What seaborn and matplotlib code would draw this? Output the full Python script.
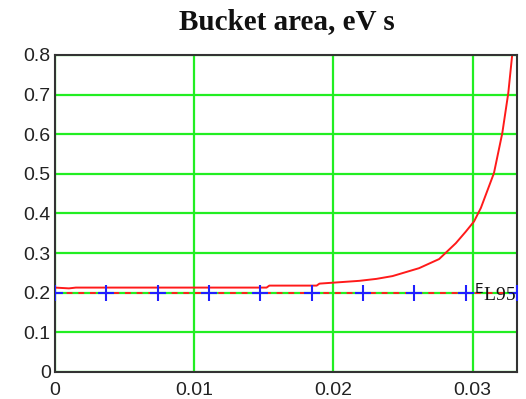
import matplotlib
matplotlib.use("Agg")
import matplotlib.pyplot as plt
import seaborn as sns
import pandas as pd

# Data
curve_x = [0.0, 0.0010, 0.0015, 0.0050, 0.0100, 0.0152, 0.0154, 0.0188, 0.0190,
           0.02186, 0.0231, 0.02425, 0.02616, 0.0276, 0.0288, 0.02951, 0.03011,
           0.0306, 0.03154, 0.03214, 0.03257, 0.03285]
curve_y = [0.213, 0.211, 0.213, 0.213, 0.213, 0.213, 0.218, 0.218, 0.223,
           0.230, 0.235, 0.242, 0.262, 0.285, 0.325, 0.354, 0.380,
           0.414, 0.502, 0.603, 0.704, 0.800]
ref_level = 0.2
marker_x = [0.0, 0.00369, 0.00738, 0.01107, 0.01476, 0.01845, 0.02214, 0.02583, 0.02952, 0.03321]
marker_y = [0.2] * len(marker_x)
xticks = [0, 0.01, 0.02, 0.03]
xtick_labels = ["0", "0.01", "0.02", "0.03"]
yticks = [0, 0.1, 0.2, 0.3, 0.4, 0.5, 0.6, 0.7, 0.8]
ytick_labels = ["0", "0.1", "0.2", "0.3", "0.4", "0.5", "0.6", "0.7", "0.8"]
title = "Bucket area, eV s"

sns.set_style("white")
plt.rcParams['font.family'] = ['Liberation Sans', 'DejaVu Sans']

fig = plt.figure(figsize=(5.26, 3.99), dpi=100)
ax = fig.add_axes([0.1046, 0.0677, 0.8784, 0.7945])

xmax = 0.0332
ax.set_xlim(0, xmax)
ax.set_ylim(0, 0.8)

ax.set_xticks(xticks)
ax.set_xticklabels(xtick_labels)
ax.set_yticks(yticks)
ax.set_yticklabels(ytick_labels)
ax.tick_params(length=0, labelsize=14, colors="#222222")
ax.tick_params(axis="y", pad=3)
ax.tick_params(axis="x", pad=7)

ax.grid(True, color="#22ee22", linewidth=1.6)
ax.set_axisbelow(True)

for s in ax.spines.values():
    s.set_color("#333333")
    s.set_linewidth(1.5)

df_curve = pd.DataFrame({"x": curve_x, "y": curve_y})
sns.lineplot(data=df_curve, x="x", y="y", ax=ax, color="#ff1a1a", linewidth=1.4,
             estimator=None, sort=False)

df_ref = pd.DataFrame({"x": [0, xmax], "y": [ref_level, ref_level]})
sns.lineplot(data=df_ref, x="x", y="y", ax=ax, color="#ff2020", linewidth=1.4,
             linestyle=(0, (3, 3)), estimator=None)

df_m = pd.DataFrame({"x": marker_x, "y": marker_y})
ax.plot(df_m["x"], df_m["y"], linestyle="none", marker="+", markersize=11,
        markeredgewidth=1.5, color="#2020ff", zorder=5)

ax.set_xlabel("")
ax.set_ylabel("")

ax.text(0.0301, 0.196, r"$^{\mathrm{E}}$L95", fontsize=14, family="Liberation Serif",
        ha="left", va="center", color="#111111", zorder=6)

fig.text(0.545, 0.945, title, ha="center", va="center", fontsize=21,
         fontweight="bold", family="Liberation Serif", color="#111111")

fig.savefig("out.png", dpi=100)
